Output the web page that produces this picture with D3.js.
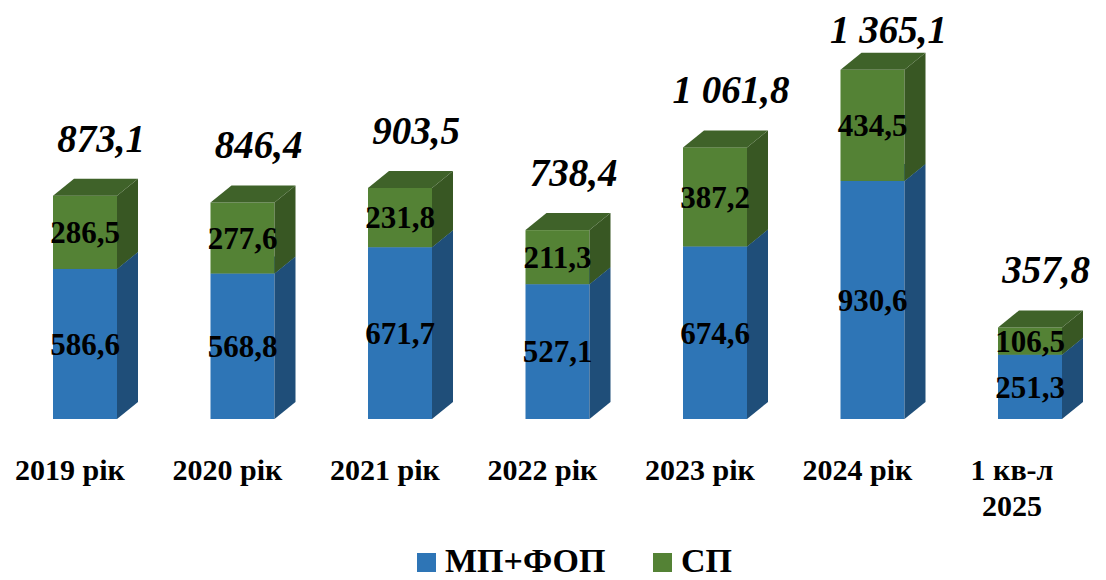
<!DOCTYPE html>
<html>
<head>
<meta charset="utf-8">
<script src="https://cdn.jsdelivr.net/npm/d3@7"></script>
<style>
  html, body { margin: 0; padding: 0; background: #fff; }
  svg { display: block; }
  svg text { font-family: "Liberation Serif", "Tinos", "Times New Roman", "DejaVu Serif", "Noto Serif", serif; fill: #000; }
</style>
</head>
<body>
<svg id="chart" width="1106" height="580"></svg>
<script>
const categories = ["2019 рік", "2020 рік", "2021 рік", "2022 рік", "2023 рік", "2024 рік", "1 кв-л\n2025"];
const mpFop = [586.6, 568.8, 671.7, 527.1, 674.6, 930.6, 251.3];
const sp = [286.5, 277.6, 231.8, 211.3, 387.2, 434.5, 106.5];
const totals = [873.1, 846.4, 903.5, 738.4, 1061.8, 1365.1, 357.8];
const seriesNames = ["МП+ФОП", "СП"];

const colors = {
  blue: { front: "#2E75B6", side: "#1F4E79", top: "#28649C" },
  green: { front: "#548235", side: "#385723", top: "#3F6229" }
};

const FONT = "'Liberation Serif', Tinos, 'Times New Roman', 'DejaVu Serif', 'Noto Serif', serif";
const svg = d3.select("#chart");
const baseY = 419;
const barW = 64, dx = 21, dy = 17;

const x = d3.scalePoint().domain(categories).range([85, 1030]);
const y = d3.scaleLinear().domain([0, 1400]).range([baseY, baseY - 1400 * 0.2558]);

const fmt = d3.formatLocale({ decimal: ",", thousands: "\u00a0", grouping: [3], currency: ["", ""] }).format(",.1f");

const data = categories.map((c, i) => ({ c, a: mpFop[i], b: sp[i], t: totals[i] }));

function box(g, x0, yTop, yBot, col) {
  const x1 = x0 + barW;
  g.append("rect").attr("x", x0).attr("y", yTop).attr("width", barW).attr("height", yBot - yTop).attr("fill", col.front);
  g.append("path").attr("d", `M${x1},${yBot}L${x1 + dx},${yBot - dy}L${x1 + dx},${yTop - dy}L${x1},${yTop}Z`).attr("fill", col.side);
  g.append("path").attr("d", `M${x0},${yTop}L${x0 + dx},${yTop - dy}L${x1 + dx},${yTop - dy}L${x1},${yTop}Z`).attr("fill", col.top);
}

const bars = svg.append("g");
data.forEach(d => {
  const cx = x(d.c);
  const x0 = cx - barW / 2;
  const g = bars.append("g");
  box(g, x0, y(d.a), y(0), colors.blue);
  box(g, x0, y(d.a + d.b), y(d.a), colors.green);

  g.append("text").attr("font-family", FONT).attr("x", cx).attr("y", (y(d.a) + y(0)) / 2).attr("dy", "0.35em")
    .attr("text-anchor", "middle").attr("font-weight", "bold").attr("font-size", 31).text(fmt(d.a));
  g.append("text").attr("font-family", FONT).attr("x", cx).attr("y", (y(d.a + d.b) + y(d.a)) / 2).attr("dy", "0.35em")
    .attr("text-anchor", "middle").attr("font-weight", "bold").attr("font-size", 31).text(fmt(d.b));

  const ty = Math.max(43, y(d.t) - dy - 27);
  g.append("text").attr("font-family", FONT).attr("x", cx + 16).attr("y", ty)
    .attr("text-anchor", "middle").attr("font-weight", "bold").attr("font-style", "italic")
    .attr("font-size", 39).text(fmt(d.t));
});

const axis = svg.append("g");
data.forEach(d => {
  const lines = d.c.split("\n");
  const t = axis.append("text").attr("font-family", FONT).attr("x", x(d.c) - 15).attr("y", 480)
    .attr("text-anchor", "middle").attr("font-weight", "bold").attr("font-size", 30);
  lines.forEach((ln, j) => {
    t.append("tspan").attr("x", x(d.c) - (lines.length > 1 ? 18 : 15)).attr("dy", j === 0 ? 0 : 36).text(ln);
  });
});

const legend = svg.append("g");
const legItems = [
  { name: seriesNames[0], color: colors.blue.front, x: 417 },
  { name: seriesNames[1], color: colors.green.front, x: 653 }
];
legItems.forEach(it => {
  legend.append("rect").attr("x", it.x).attr("y", 553).attr("width", 19).attr("height", 19).attr("fill", it.color);
  legend.append("text").attr("font-family", FONT).attr("x", it.x + 28).attr("y", 572).attr("font-weight", "bold").attr("font-size", 34).text(it.name);
});
</script>
</body>
</html>
